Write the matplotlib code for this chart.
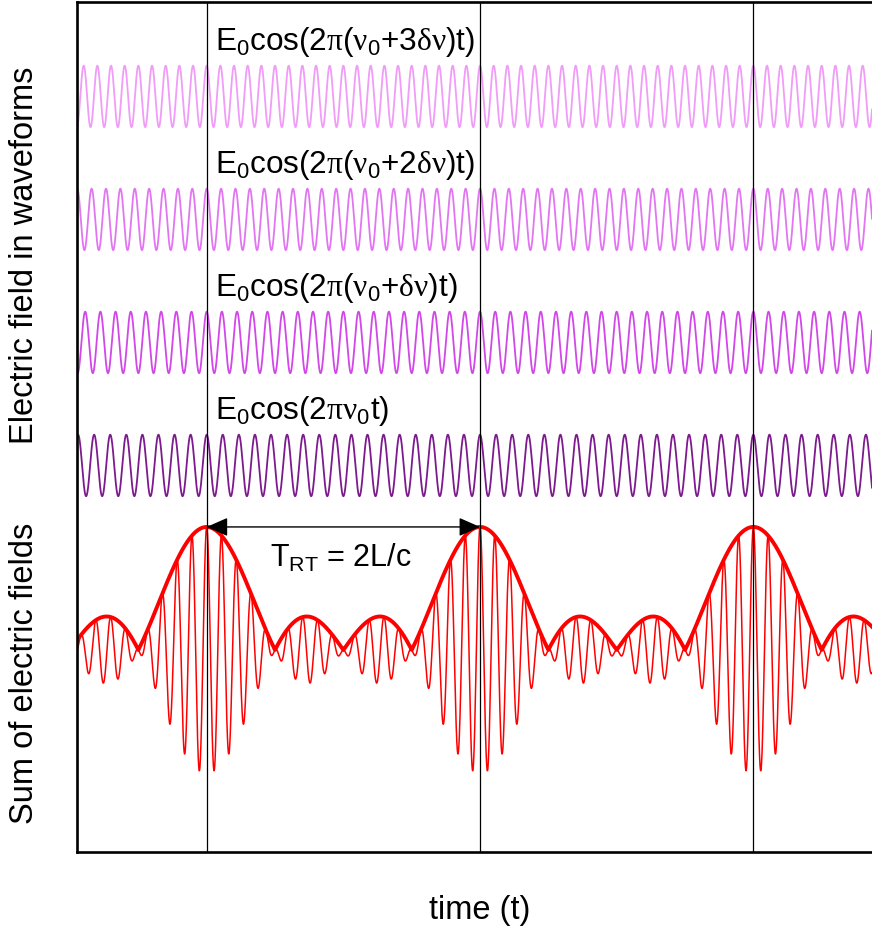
import numpy as np
import matplotlib
matplotlib.use('Agg')
import matplotlib.pyplot as plt

plt.rcParams['font.family'] = ['Liberation Sans', 'DejaVu Sans']
plt.rcParams['mathtext.fontset'] = 'custom'
plt.rcParams['mathtext.rm'] = 'Liberation Serif'
plt.rcParams['mathtext.it'] = 'Liberation Serif'
plt.rcParams['mathtext.default'] = 'regular'

# 周波数（δν 単位）、縦オフセット、色、ラベル
freqs = [17, 18, 19, 20]
offsets = [6, 10, 14, 18]
colors = ['#7d1a8e', '#d247e8', '#e276f2', '#f09cf8']
labels = [r'E$_0$cos(2$\mathrm{\pi\nu}_0$t)',
          r'E$_0$cos(2$\mathrm{\pi}$($\mathrm{\nu}_0$+$\mathrm{\delta\nu}$)t)',
          r'E$_0$cos(2$\mathrm{\pi}$($\mathrm{\nu}_0$+2$\mathrm{\delta\nu}$)t)',
          r'E$_0$cos(2$\mathrm{\pi}$($\mathrm{\nu}_0$+3$\mathrm{\delta\nu}$)t)']
peak_times = [0, 1, 2]
t_min, t_max = -0.4745, 2.434

t = np.linspace(t_min, t_max, 6000)

fig = plt.figure(figsize=(8.72, 9.33), dpi=100)
ax = fig.add_axes([77 / 872, 81 / 933, 1 - 77 / 872, 850 / 933])

# 各波形
total = np.zeros_like(t)
env = np.zeros_like(t, dtype=complex)
for f, off, c in zip(freqs, offsets, colors):
    y = np.cos(2 * np.pi * f * t)
    total += y
    env += np.exp(2j * np.pi * (f - freqs[0]) * t)
    ax.plot(t, y + off, color=c, lw=1.3)

# 合成波と包絡線
ax.plot(t, total, color='red', lw=1.1)
ax.plot(t, np.abs(env), color='red', lw=2.8)

for pt in peak_times:
    ax.axvline(pt, color='black', lw=0.9, zorder=5)

for lab, off in zip(labels, offsets):
    ax.text(0.03, off + 1.5, lab, fontsize=22.7, va='baseline', ha='left')

ax.annotate('', xy=(0, 4), xytext=(1, 4),
            arrowprops=dict(arrowstyle='<|-|>,head_length=0.5,head_width=0.22',
                            color='black', lw=1,
                            mutation_scale=26, shrinkA=0, shrinkB=0))
ax.text(0.49, 2.7, r'T$_{RT}$ = 2L/c', fontsize=22, ha='center', va='baseline',
        math_fontfamily='dejavusans')

ax.set_xlim(t_min, t_max)
ax.set_ylim(-6.57, 21.07)
ax.set_xticks([])
ax.set_yticks([])
for s in ['left', 'top', 'bottom']:
    ax.spines[s].set_linewidth(1.9)
ax.spines['right'].set_visible(False)

fig.text(25 / 872, 1 - 255 / 933, 'Electric field in waveforms', rotation=90,
         fontsize=23.5, ha='center', va='center')
fig.text(25 / 872, 1 - 673 / 933, 'Sum of electric fields', rotation=90,
         fontsize=23.5, ha='center', va='center')
fig.text(480 / 872, 1 - 910 / 933, 'time (t)', fontsize=23.5, ha='center', va='center')

fig.savefig('out.png', dpi=100)
